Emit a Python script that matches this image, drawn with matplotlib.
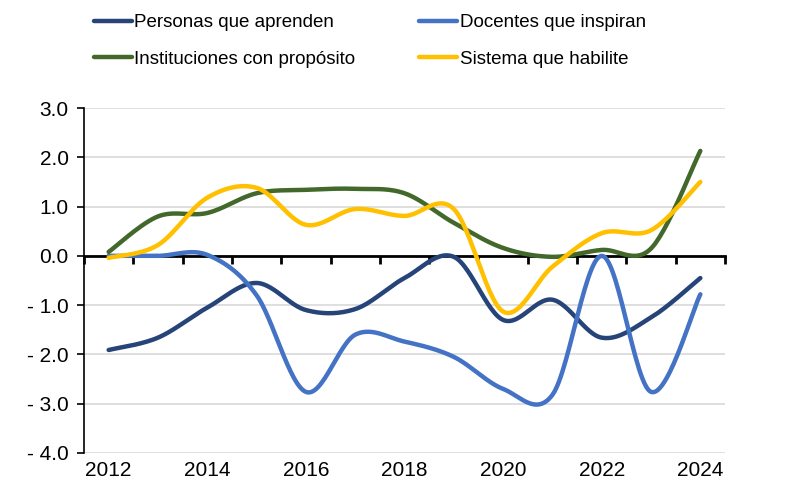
import numpy as np
import matplotlib.pyplot as plt

plt.rcParams['font.family'] = ['Liberation Sans', 'DejaVu Sans']

# datos
years = [2012, 2013, 2014, 2015, 2016, 2017, 2018, 2019, 2020, 2021, 2022, 2023, 2024]
personas = [-1.91, -1.66, -1.05, -0.55, -1.10, -1.08, -0.45, -0.02, -1.30, -0.89, -1.66, -1.25, -0.45]
docentes = [0.0, 0.0, 0.02, -0.80, -2.76, -1.60, -1.74, -2.05, -2.70, -2.82, 0.0, -2.76, -0.78]
instituciones = [0.08, 0.80, 0.87, 1.27, 1.34, 1.36, 1.27, 0.67, 0.16, -0.02, 0.12, 0.15, 2.13]
sistema = [-0.04, 0.22, 1.18, 1.38, 0.63, 0.95, 0.81, 0.95, -1.13, -0.22, 0.46, 0.52, 1.50]

series = [
    ("Personas que aprenden", personas, "#264478"),
    ("Docentes que inspiran", docentes, "#4472C4"),
    ("Instituciones con propósito", instituciones, "#43682B"),
    ("Sistema que habilite", sistema, "#FFC000"),
]


def smooth(x, y, n=30):
    # curva suavizada tipo Excel (Catmull-Rom / Bezier)
    x = np.asarray(x, float)
    y = np.asarray(y, float)
    px = np.concatenate([[x[0]], x, [x[-1]]])
    py = np.concatenate([[y[0]], y, [y[-1]]])
    xs, ys = [], []
    t = np.linspace(0, 1, n)
    for i in range(1, len(px) - 2):
        p0 = np.array([px[i], py[i]])
        p3 = np.array([px[i + 1], py[i + 1]])
        c1 = p0 + (np.array([px[i + 1], py[i + 1]]) - np.array([px[i - 1], py[i - 1]])) / 6
        c2 = p3 - (np.array([px[i + 2], py[i + 2]]) - np.array([px[i], py[i]])) / 6
        b = ((1 - t) ** 3)[:, None] * p0 + (3 * (1 - t) ** 2 * t)[:, None] * c1 \
            + (3 * (1 - t) * t ** 2)[:, None] * c2 + (t ** 3)[:, None] * p3
        xs.extend(b[:, 0])
        ys.extend(b[:, 1])
    return np.array(xs), np.array(ys)


fig = plt.figure(figsize=(8, 5), dpi=100)
ax = fig.add_axes([84 / 800, 1 - 453 / 500, (725 - 84) / 800, (453 - 108) / 500])

xpos = np.arange(len(years))
lines = {}
for label, vals, color in series:
    sx, sy = smooth(xpos, vals)
    lines[label], = ax.plot(sx, sy, color=color, lw=3.2, label=label, solid_capstyle='round')

ax.set_xlim(-0.5, len(years) - 0.5)
ax.set_ylim(-4, 3)

yt = np.arange(-4, 3.5, 1.0)
ax.set_yticks(yt)
ax.set_yticklabels([("- %.1f" % abs(v)) if v < 0 else "%.1f" % v for v in yt], fontsize=15)
ax.grid(axis='y', color='#D9D9D9', lw=1.2)
ax.set_axisbelow(True)

for s in ['top', 'right']:
    ax.spines[s].set_visible(False)
ax.spines['left'].set_color('black')
ax.spines['left'].set_linewidth(1.2)
ax.spines['bottom'].set_position(('data', 0))
ax.spines['bottom'].set_linewidth(2)
ax.spines['bottom'].set_zorder(1)

ax.set_xticks(np.arange(-0.5, len(years), 1.0))
ax.set_xticklabels([])
ax.tick_params(axis='x', direction='out', length=6, width=2)
ax.tick_params(axis='y', direction='out', length=5, width=1.2, pad=6)

sec = ax.secondary_xaxis('bottom')
sec.set_xticks(xpos[::2], [str(y) for y in years[::2]], fontsize=15)
sec.tick_params(length=0, pad=6)
sec.spines['bottom'].set_visible(False)

# orden por filas como en el original
order = ["Personas que aprenden", "Instituciones con propósito",
         "Docentes que inspiran", "Sistema que habilite"]
fig.legend([lines[k] for k in order], order, loc='upper left',
           bbox_to_anchor=(94 / 800, 1 - 14 / 500), ncol=2, frameon=False,
           fontsize=13.5, handlelength=2.0, handletextpad=0.15, columnspacing=3.4,
           labelspacing=1.05, borderaxespad=0, borderpad=0)

fig.savefig('out.png', dpi=100)
